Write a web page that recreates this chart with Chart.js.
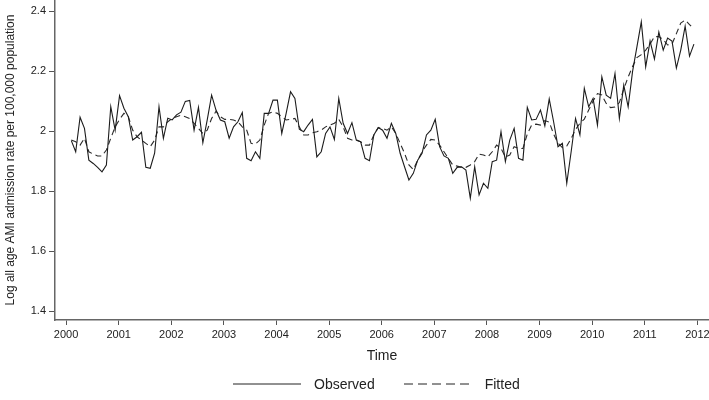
<!DOCTYPE html>
<html>
<head>
<meta charset="utf-8">
<script src="https://cdn.jsdelivr.net/npm/chart.js@4.4.1/dist/chart.umd.min.js"></script>
<style>
  html, body { margin: 0; padding: 0; background: #fff; }
  #wrap { position: relative; width: 709px; height: 400px; }
  #legend { position: absolute; left: 233px; top: 376px; display: flex; align-items: center;
            font: 14px "Liberation Sans", Arial, sans-serif; color: #222; }
  #legend svg { display: block; }
</style>
</head>
<body>
<div id="wrap">
  <canvas id="chart" width="709" height="400"></canvas>
  <div id="legend">
    <svg width="68" height="10"><line x1="0" y1="5" x2="68" y2="5" stroke="#222" stroke-width="1"/></svg>
    <span style="margin-left:13px">Observed</span>
    <svg width="70" height="10" style="margin-left:29px"><line x1="0" y1="5" x2="70" y2="5" stroke="#222" stroke-width="1" stroke-dasharray="9,5"/></svg>
    <span style="margin-left:11px">Fitted</span>
  </div>
</div>
<script>
// monthly series, first month sits a little after the 2000 tick
const t0 = 2000.1;
const step = 1 / 12;

const yearTicks = [2000, 2001, 2002, 2003, 2004, 2005, 2006, 2007, 2008, 2009, 2010, 2011, 2012];
const yTicks = [1.4, 1.6, 1.8, 2, 2.2, 2.4];

const observed = [
  1.968, 1.931, 2.046, 2.009, 1.903, 1.892, 1.879, 1.864, 1.887, 2.081,
  2.003, 2.118, 2.076, 2.048, 1.970, 1.981, 1.996, 1.879, 1.876, 1.926,
  2.081, 1.976, 2.043, 2.037, 2.054, 2.063, 2.099, 2.102, 2.003, 2.079,
  1.961, 2.037, 2.120, 2.070, 2.037, 2.031, 1.976, 2.014, 2.031, 2.062,
  1.909, 1.901, 1.931, 1.909, 2.059, 2.059, 2.103, 2.103, 1.992, 2.059,
  2.131, 2.109, 2.006, 1.998, 2.020, 2.039, 1.914, 1.931, 1.992, 2.014,
  1.972, 2.109, 2.026, 1.992, 2.028, 1.970, 1.964, 1.909, 1.901, 1.987,
  2.012, 2.003, 1.976, 2.026, 1.992, 1.926, 1.881, 1.837, 1.859, 1.903,
  1.926, 1.987, 2.003, 2.039, 1.948, 1.917, 1.909, 1.859, 1.879, 1.881,
  1.870, 1.776, 1.881, 1.787, 1.826, 1.809, 1.898, 1.903, 1.998, 1.898,
  1.970, 2.009, 1.909, 1.903, 2.079, 2.037, 2.039, 2.070, 2.017, 2.107,
  2.031, 1.948, 1.959, 1.826, 1.931, 2.042, 1.987, 2.142, 2.081, 2.109,
  2.020, 2.181, 2.120, 2.109, 2.192, 2.042, 2.153, 2.081, 2.198, 2.281,
  2.364, 2.214, 2.300, 2.240, 2.330, 2.270, 2.310, 2.300, 2.210, 2.270,
  2.350, 2.250, 2.290
];

const fitted = [
  1.970, 1.964, 1.953, 1.976, 1.931, 1.923, 1.917, 1.917, 1.937, 1.976,
  2.014, 2.039, 2.059, 2.048, 2.003, 1.981, 1.970, 1.959, 1.948, 1.970,
  2.014, 2.014, 2.031, 2.042, 2.048, 2.053, 2.048, 2.042, 2.026, 2.009,
  1.992, 2.003, 2.042, 2.066, 2.048, 2.039, 2.039, 2.037, 2.031, 2.014,
  2.003, 1.959, 1.957, 1.970, 2.020, 2.059, 2.064, 2.059, 2.048, 2.037,
  2.039, 2.042, 2.014, 1.987, 1.987, 1.994, 1.998, 2.003, 2.014, 2.020,
  2.026, 2.039, 2.014, 1.976, 1.970, 1.970, 1.964, 1.953, 1.953, 1.987,
  2.011, 2.009, 2.003, 2.014, 1.992, 1.959, 1.926, 1.887, 1.872, 1.903,
  1.931, 1.953, 1.972, 1.970, 1.953, 1.931, 1.909, 1.887, 1.883, 1.879,
  1.879, 1.887, 1.898, 1.923, 1.920, 1.914, 1.931, 1.953, 1.942, 1.914,
  1.920, 1.948, 1.942, 1.942, 1.990, 2.020, 2.023, 2.020, 2.035, 2.030,
  1.990, 1.960, 1.945, 1.950, 1.975, 2.005, 2.026, 2.040, 2.070, 2.100,
  2.125, 2.120, 2.092, 2.078, 2.080, 2.095, 2.140, 2.180, 2.215, 2.245,
  2.255, 2.270, 2.290, 2.315, 2.315, 2.305, 2.287, 2.290, 2.325, 2.360,
  2.370, 2.355, 2.340
];

const toPoints = arr => arr.map((v, i) => ({ x: t0 + i * step, y: v }));

Chart.defaults.font.family = '"Liberation Sans", Arial, sans-serif';
Chart.defaults.color = '#222';

const ctx = document.getElementById('chart').getContext('2d');
new Chart(ctx, {
  type: 'line',
  data: {
    datasets: [
      { label: 'Observed', data: toPoints(observed), borderColor: '#1c1c1c', borderWidth: 1.1,
        pointRadius: 0, tension: 0, fill: false },
      { label: 'Fitted', data: toPoints(fitted), borderColor: '#2a2a2a', borderWidth: 1.1,
        borderDash: [6, 4], pointRadius: 0, tension: 0, fill: false }
    ]
  },
  options: {
    responsive: false,
    animation: false,
    layout: { padding: 0 },
    plugins: { legend: { display: false }, tooltip: { enabled: false } },
    scales: {
      x: {
        type: 'linear',
        min: 1999.79,
        max: 2012.22,
        afterBuildTicks: s => { s.ticks = yearTicks.map(v => ({ value: v })); },
        afterFit: s => { s.height = 80; s.paddingLeft = 0; s.paddingRight = 0; },
        ticks: { callback: v => String(v), autoSkip: false, maxRotation: 0, padding: 3, font: { size: 11 } },
        grid: { drawOnChartArea: false, tickLength: 5, tickColor: '#555' },
        border: { color: '#666', width: 1.5 },
        title: { display: true, text: 'Time', font: { size: 14 }, padding: { top: 0, bottom: 35 } }
      },
      y: {
        min: 1.37,
        max: 2.437,
        afterBuildTicks: s => { s.ticks = yTicks.map(v => ({ value: v })); },
        afterFit: s => { s.width = 55; s.paddingTop = 0; s.paddingBottom = 0; },
        ticks: { callback: v => String(v), padding: 3, font: { size: 11 } },
        grid: { drawOnChartArea: false, tickLength: 6, tickColor: '#555' },
        border: { color: '#666', width: 1.5 },
        title: { display: true, text: 'Log all age AMI admission rate per 100,000 population',
                 font: { size: 12 }, padding: { top: 3, bottom: 0 } }
      }
    }
  }
});
</script>
</body>
</html>
